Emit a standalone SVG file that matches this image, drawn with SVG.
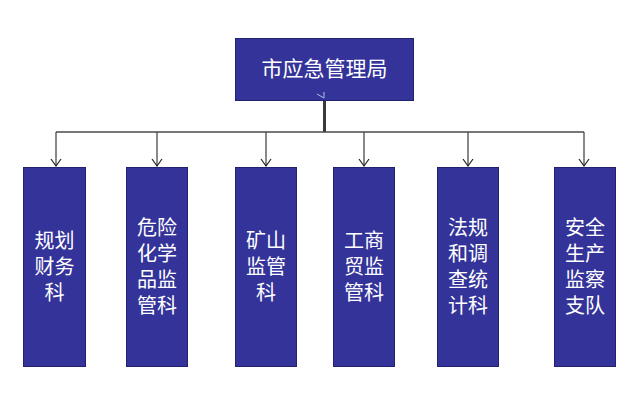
<svg xmlns="http://www.w3.org/2000/svg" width="643" height="408" viewBox="0 0 643 408">
<defs>
<style>
.box{fill:#333399;stroke:#22226e;stroke-width:1}
.t{font-family:"Noto Sans CJK SC","Liberation Sans",sans-serif;font-size:20px;fill:#ffffff;text-anchor:middle}
.ln{stroke:#4a4a4a;stroke-width:1.3;fill:none}
</style>
<marker id="ah" markerWidth="12" markerHeight="10" refX="6" refY="8" orient="0" markerUnits="userSpaceOnUse">
<path d="M1,1 L6,8 L11,1" fill="none" stroke="#222" stroke-width="1.2"/>
</marker>
</defs>
<rect width="643" height="408" fill="#ffffff"/>
<g id="connectors">
<line x1="324.5" y1="100" x2="324.5" y2="132" stroke="#3a3a3a" stroke-width="3"/>
<line class="ln" x1="56" y1="132" x2="584" y2="132"/>
<line class="ln" x1="56" y1="132" x2="56" y2="166" marker-end="url(#ah)"/>
<line class="ln" x1="157" y1="132" x2="157" y2="166" marker-end="url(#ah)"/>
<line class="ln" x1="266" y1="132" x2="266" y2="166" marker-end="url(#ah)"/>
<line class="ln" x1="364" y1="132" x2="364" y2="166" marker-end="url(#ah)"/>
<line class="ln" x1="468" y1="132" x2="468" y2="166" marker-end="url(#ah)"/>
<line class="ln" x1="584" y1="132" x2="584" y2="166" marker-end="url(#ah)"/>
</g>
<g id="root">
<rect class="box" x="235.5" y="38.5" width="178" height="62"/>
<text class="t" x="324.5" y="76" style="font-size:21px">市应急管理局</text>
<path d="M317,94 L324,98 L324,92" fill="none" stroke="#a8c4e8" stroke-width="1"/>
</g>
<g id="n1">
<rect class="box" x="23.5" y="167.5" width="62" height="199"/>
<text class="t"><tspan x="54.5" y="248">规划</tspan><tspan x="54.5" y="274">财务</tspan><tspan x="54.5" y="300">科</tspan></text>
</g>
<g id="n2">
<rect class="box" x="126.5" y="167.5" width="61" height="199"/>
<text class="t"><tspan x="157" y="235">危险</tspan><tspan x="157" y="261">化学</tspan><tspan x="157" y="287">品监</tspan><tspan x="157" y="313">管科</tspan></text>
</g>
<g id="n3">
<rect class="box" x="235.5" y="167.5" width="61" height="199"/>
<text class="t"><tspan x="266" y="248">矿山</tspan><tspan x="266" y="274">监管</tspan><tspan x="266" y="300">科</tspan></text>
</g>
<g id="n4">
<rect class="box" x="333.5" y="167.5" width="61" height="199"/>
<text class="t"><tspan x="364" y="248">工商</tspan><tspan x="364" y="274">贸监</tspan><tspan x="364" y="300">管科</tspan></text>
</g>
<g id="n5">
<rect class="box" x="437.5" y="167.5" width="61" height="199"/>
<text class="t"><tspan x="468" y="235">法规</tspan><tspan x="468" y="261">和调</tspan><tspan x="468" y="287">查统</tspan><tspan x="468" y="313">计科</tspan></text>
</g>
<g id="n6">
<rect class="box" x="554.5" y="167.5" width="61" height="199"/>
<text class="t"><tspan x="585" y="235">安全</tspan><tspan x="585" y="261">生产</tspan><tspan x="585" y="287">监察</tspan><tspan x="585" y="313">支队</tspan></text>
</g>
</svg>
